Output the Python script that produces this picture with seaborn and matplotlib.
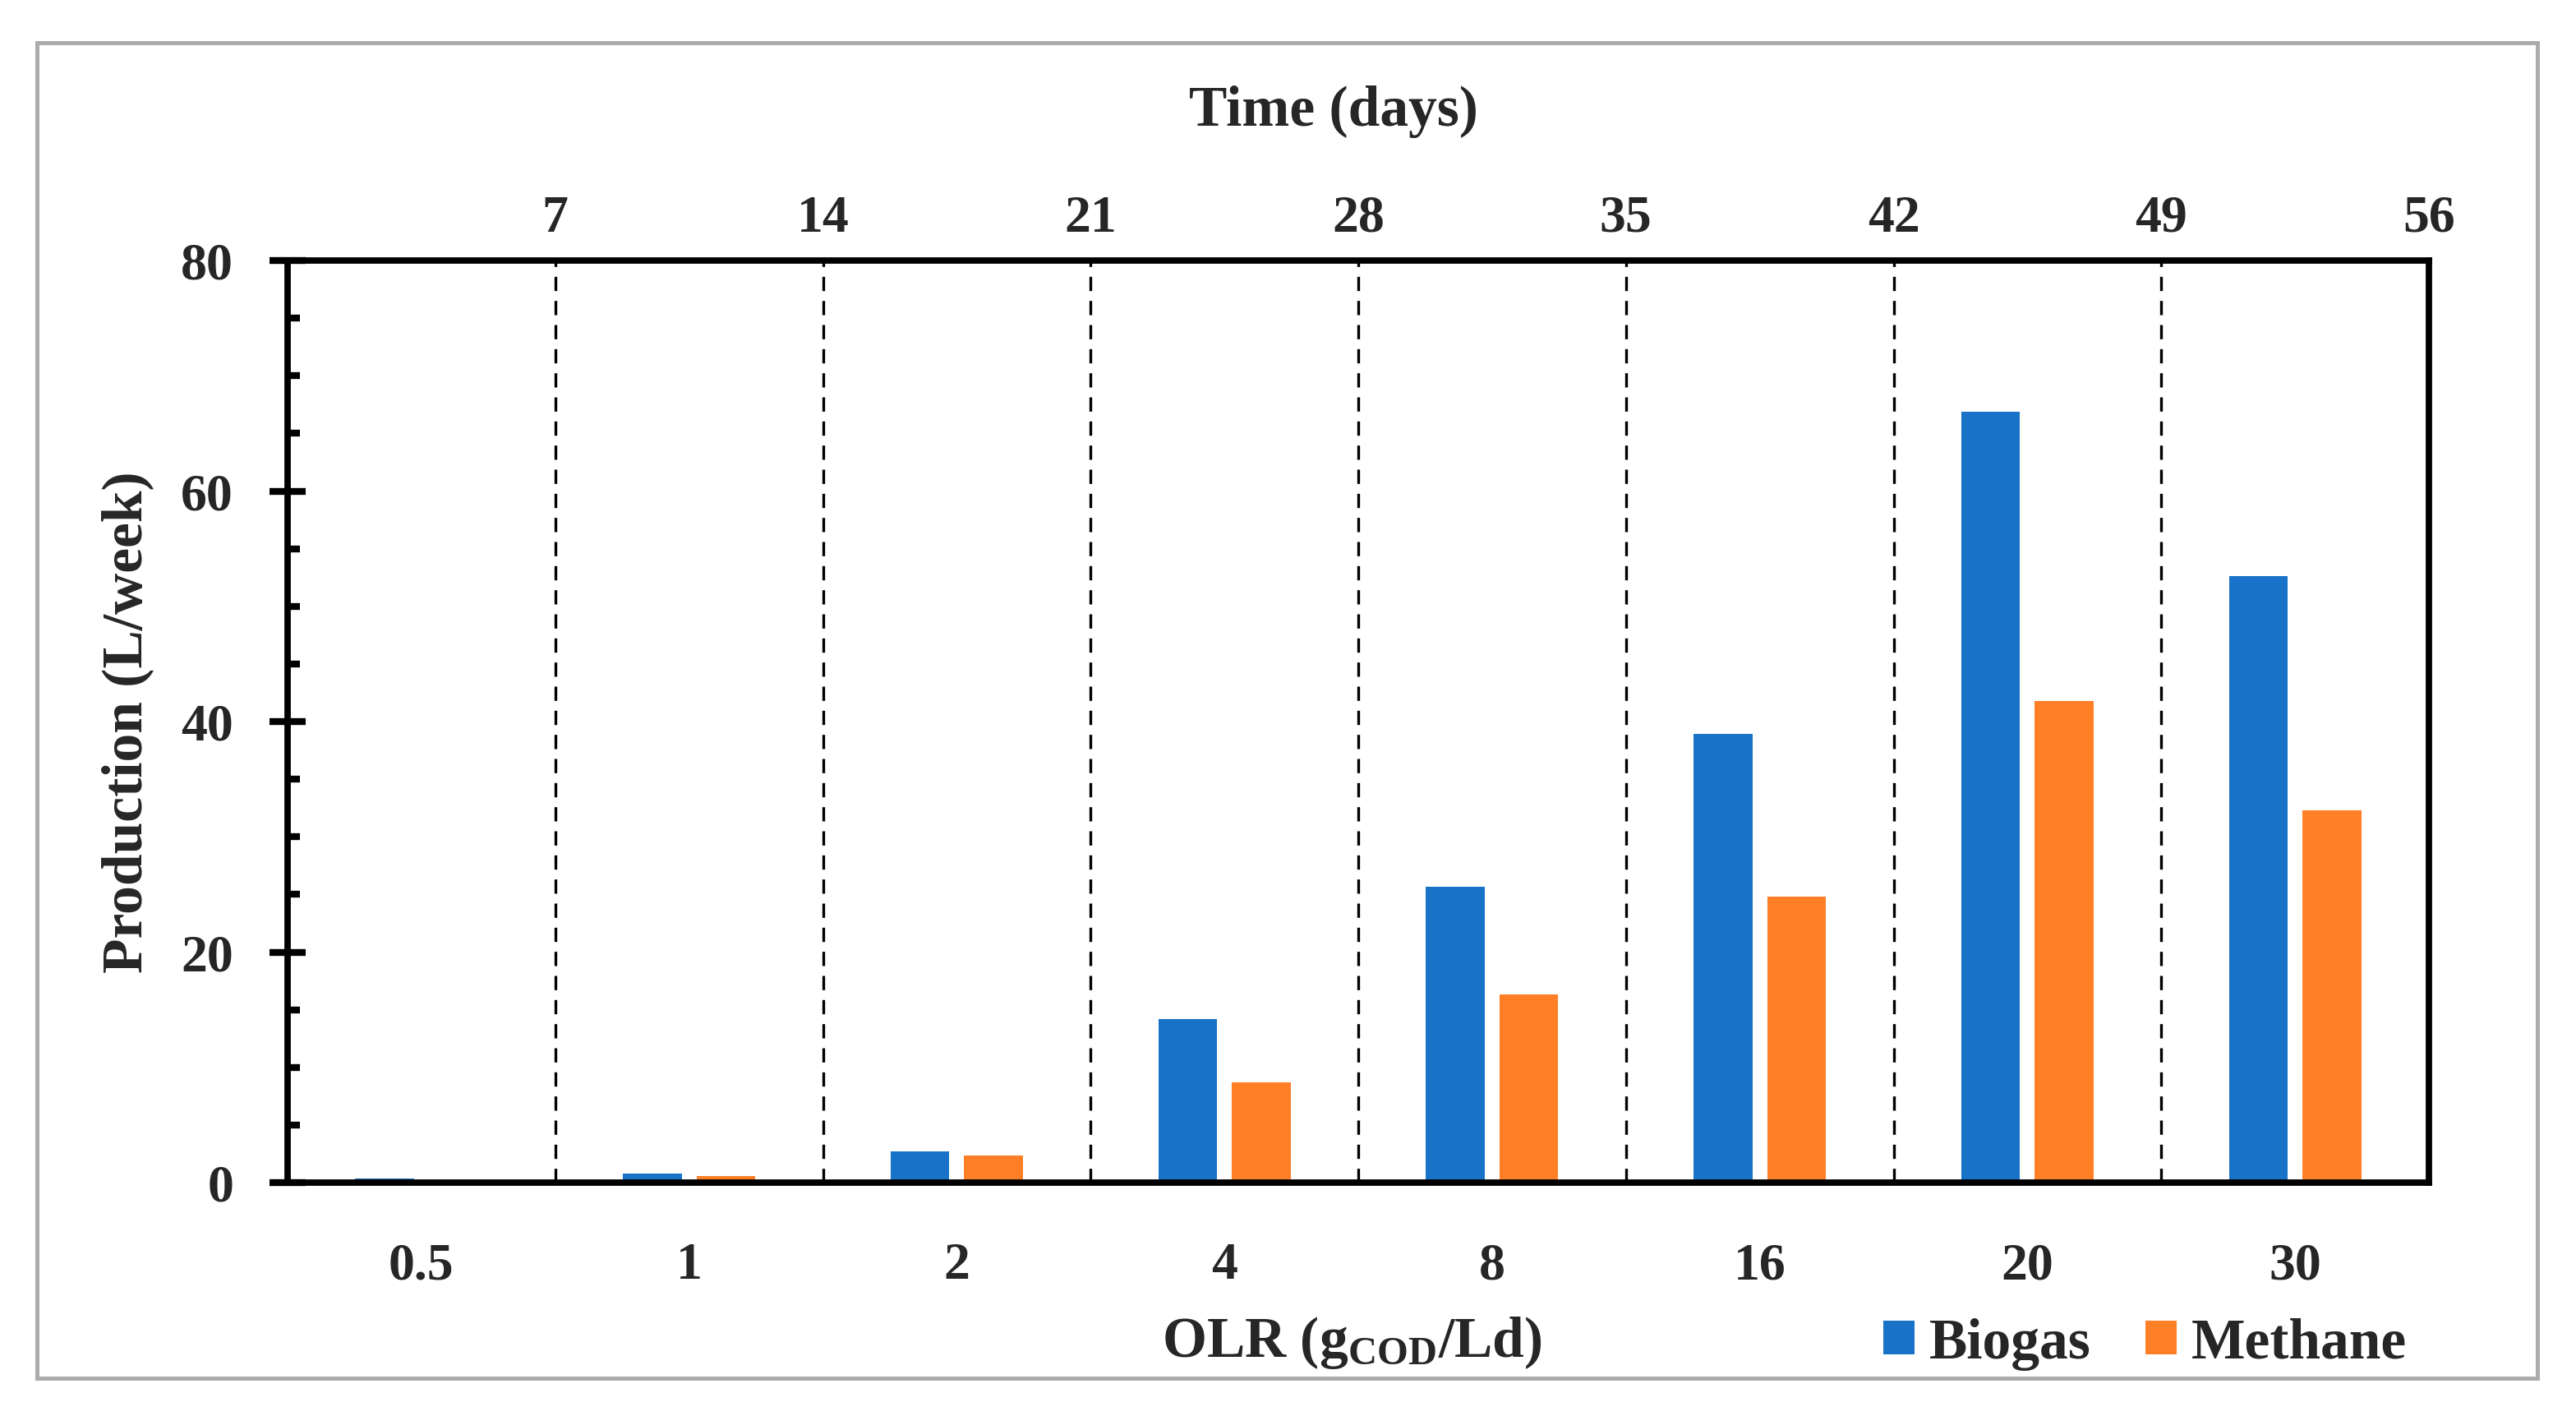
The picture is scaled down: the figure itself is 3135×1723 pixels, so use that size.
import numpy as np
import pandas as pd
import matplotlib
matplotlib.use("Agg")
import matplotlib.pyplot as plt
from matplotlib.patches import Rectangle
from matplotlib.ticker import MultipleLocator
import seaborn as sns

# ---- data ----
olr_labels = ["0.5", "1", "2", "4", "8", "16", "20", "30"]
biogas = [0.35, 0.8, 2.7, 14.2, 25.7, 38.9, 66.9, 52.6]
methane = [0.0, 0.6, 2.35, 8.7, 16.3, 24.8, 41.8, 32.3]
time_labels = ["7", "14", "21", "28", "35", "42", "49", "56"]
series_names = ["Biogas", "Methane"]
colors = ["#1873C8", "#FF7F27"]

df = pd.DataFrame({
    "OLR": olr_labels * 2,
    "Production": biogas + methane,
    "Gas": [series_names[0]] * len(olr_labels) + [series_names[1]] * len(olr_labels),
})

sns.set_style("white")
plt.rcParams["font.family"] = ["Liberation Serif", "DejaVu Serif"]
plt.rcParams["font.weight"] = "bold"
plt.rcParams["axes.labelweight"] = "bold"
plt.rcParams["mathtext.fontset"] = "custom"
plt.rcParams["mathtext.rm"] = "Liberation Serif:bold"
plt.rcParams["mathtext.it"] = "Liberation Serif:bold:italic"
plt.rcParams["mathtext.bf"] = "Liberation Serif:bold"

W, H = 3135, 1724
DPI = 200
fig = plt.figure(figsize=(W / DPI, H / DPI), dpi=DPI)
fs = 23      # tick labels
fs_lab = 25  # axis labels and legend

ax = fig.add_axes([350 / W, 1 - 1440 / H, (2956 - 350) / W, (1440 - 318) / H])
sns.barplot(data=df, x="OLR", y="Production", hue="Gas", order=olr_labels,
            hue_order=series_names, palette=colors, saturation=1,
            width=0.55, gap=0.2, linewidth=0, ax=ax)

n = len(olr_labels)
ax.set_xlim(-0.5, n - 0.5)
ax.set_ylim(0, 80)
ax.yaxis.set_major_locator(MultipleLocator(20))
ax.yaxis.set_minor_locator(MultipleLocator(5))

# dashed boundaries between weeks
for b in np.arange(n - 1) + 0.5:
    ax.axvline(b, color="black", lw=1.2, linestyle=(0, (5.2, 3.6)), zorder=0.5)

for s in ax.spines.values():
    s.set_visible(True)
    s.set_color("black")
    s.set_linewidth(2.8)

ax.tick_params(axis="y", which="major", direction="inout", length=15.5, width=3,
               color="black", labelsize=fs, pad=16, left=True)
ax.tick_params(axis="y", which="minor", direction="in", length=5.4, width=3,
               color="black", left=True)
ax.tick_params(axis="x", which="both", length=0, labelsize=fs, pad=26)
for lbl in ax.get_xticklabels() + ax.get_yticklabels():
    lbl.set_fontweight("bold")

ax.set_xlabel(r"OLR (g$_{\mathrm{COD}}$/Ld)", fontsize=fs_lab, fontweight="bold")
ax.xaxis.set_label_coords(0.497, -0.173)
ax.xaxis.label.set_va("center")
ax.set_ylabel("Production (L/week)", fontsize=fs_lab, fontweight="bold")
ax.yaxis.set_label_coords(-0.0748, 0.5)
ax.yaxis.label.set_va("center")

# top axis: time in days
ax2 = ax.twiny()
ax2.set_xlim(ax.get_xlim())
ax2.set_xticks(np.arange(n) + 0.5)
ax2.set_xticklabels(time_labels, fontsize=fs, fontweight="bold")
ax2.tick_params(axis="x", length=0, pad=8)
for s in ax2.spines.values():
    s.set_visible(False)
ax2.set_xlabel("Time (days)", fontsize=fs_lab, fontweight="bold")
ax2.xaxis.set_label_coords(0.4885, 1.162)
ax2.xaxis.label.set_va("center")

# legend
leg = ax.legend(loc="center left", bbox_to_anchor=(2292 / W, 1 - 1636 / H),
                bbox_transform=fig.transFigure, ncol=2, frameon=False,
                fontsize=fs_lab, borderpad=0, borderaxespad=0,
                handlelength=0.55, handleheight=0.54, handletextpad=0.26,
                columnspacing=0.95, title=None)
for t in leg.get_texts():
    t.set_fontweight("bold")

# outer grey frame
fig.add_artist(Rectangle((45 / W, 1 - 1678 / H), (3088 - 45) / W, (1678 - 53) / H,
                         transform=fig.transFigure, fill=False,
                         edgecolor="#ABABAB", linewidth=1.8))

fig.savefig("out.png", dpi=DPI, facecolor="white")
